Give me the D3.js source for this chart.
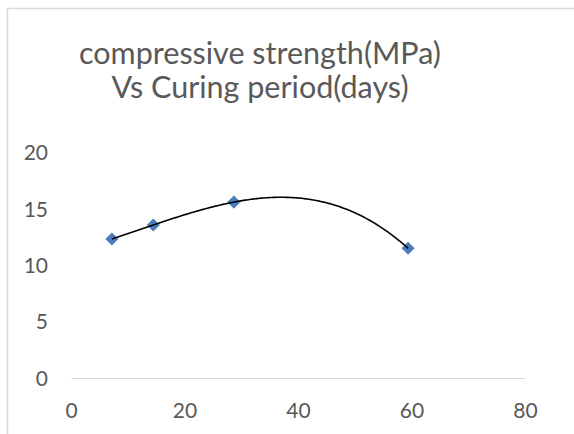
<!DOCTYPE html>
<html>
<head>
<meta charset="utf-8">
<script src="https://cdn.jsdelivr.net/npm/d3@7"></script>
<style>
  html, body { margin: 0; padding: 0; background: #fff; }
  svg { display: block; }
</style>
</head>
<body>
<svg id="chart" width="574" height="434"></svg>
<script>
// Data
const titleLines = ["compressive strength(MPa)", "Vs Curing period(days)"];
const curingDays = [7.2, 14.5, 28.7, 59.4];
const strength = [12.33, 13.57, 15.6, 11.5];
const xTicks = [0, 20, 40, 60, 80];
const yTicks = [0, 5, 10, 15, 20];
const trendOrder = 3;

const svg = d3.select("#chart");
const font = "Lato, 'Open Sans', sans-serif";
const textColor = "#595959";

// chart border
svg.append("rect")
  .attr("x", 7.5).attr("y", 8.5)
  .attr("width", 620).attr("height", 500)
  .attr("fill", "#fff")
  .attr("stroke", "#d9d9d9").attr("stroke-width", 1.5);

const x = d3.scaleLinear().domain([0, 80]).range([71, 525]);
const y = d3.scaleLinear().domain([0, 20]).range([378, 152.5]);

// title
const title = svg.append("g");
const t0 = title.append("text")
  .attr("font-family", font).attr("font-size", 27).text(titleLines[0]);
const fs = 27 * 362 / t0.node().getComputedTextLength();
t0.remove();
titleLines.forEach((t, i) => {
  title.append("text")
    .attr("x", 260).attr("y", 64 + i * 34)
    .attr("text-anchor", "middle")
    .attr("font-family", font)
    .attr("font-size", fs)
    .attr("fill", textColor)
    .text(t);
});

// axes
const xAxis = d3.axisBottom(x).tickValues(xTicks).tickSize(0).tickPadding(0);
const gx = svg.append("g").attr("transform", `translate(0,${y(0)})`).call(xAxis);
gx.select(".domain").attr("stroke", "#d9d9d9").attr("stroke-width", 1.2);
gx.selectAll("text")
  .attr("dy", null).attr("y", 39.5)
  .attr("font-family", font).attr("font-size", 21).attr("fill", textColor);

const yAxis = d3.axisLeft(y).tickValues(yTicks).tickSize(0).tickPadding(0);
const gy = svg.append("g").attr("transform", `translate(48,0)`).call(yAxis);
gy.select(".domain").remove();
gy.selectAll("text")
  .attr("x", 0).attr("dy", "0.35em")
  .attr("font-family", font).attr("font-size", 21).attr("fill", textColor);

// polynomial least-squares trendline
function polyFit(xs, ys, deg) {
  const m = deg + 1;
  const M = [];
  for (let r = 0; r < m; r++) {
    const row = [];
    for (let c = 0; c < m; c++) row.push(d3.sum(xs, v => Math.pow(v, r + c)));
    row.push(d3.sum(xs.map((v, i) => Math.pow(v, r) * ys[i])));
    M.push(row);
  }
  for (let c = 0; c < m; c++) {
    let p = c;
    for (let r = c + 1; r < m; r++) if (Math.abs(M[r][c]) > Math.abs(M[p][c])) p = r;
    [M[c], M[p]] = [M[p], M[c]];
    for (let r = 0; r < m; r++) {
      if (r === c) continue;
      const f = M[r][c] / M[c][c];
      for (let k = c; k <= m; k++) M[r][k] -= f * M[c][k];
    }
  }
  return M.map((r, i) => r[m] / r[i]);
}
const coef = polyFit(curingDays, strength, trendOrder);
const evalPoly = xv => coef.reduce((s, c, k) => s + c * Math.pow(xv, k), 0);
const xmin = d3.min(curingDays), xmax = d3.max(curingDays);
const trend = d3.range(0, 201).map(i => {
  const xv = xmin + (xmax - xmin) * i / 200;
  return [xv, evalPoly(xv)];
});

// markers
svg.append("g").selectAll("path")
  .data(curingDays.map((d, i) => [d, strength[i]]))
  .join("path")
  .attr("d", d3.symbol().type(d3.symbolSquare).size(85))
  .attr("transform", d => `translate(${x(d[0])},${y(d[1])}) rotate(45)`)
  .attr("fill", "#4a7ebb");

svg.append("path")
  .datum(trend)
  .attr("d", d3.line().x(d => x(d[0])).y(d => y(d[1])))
  .attr("fill", "none")
  .attr("stroke", "#000")
  .attr("stroke-width", 1.6);
</script>
</body>
</html>
